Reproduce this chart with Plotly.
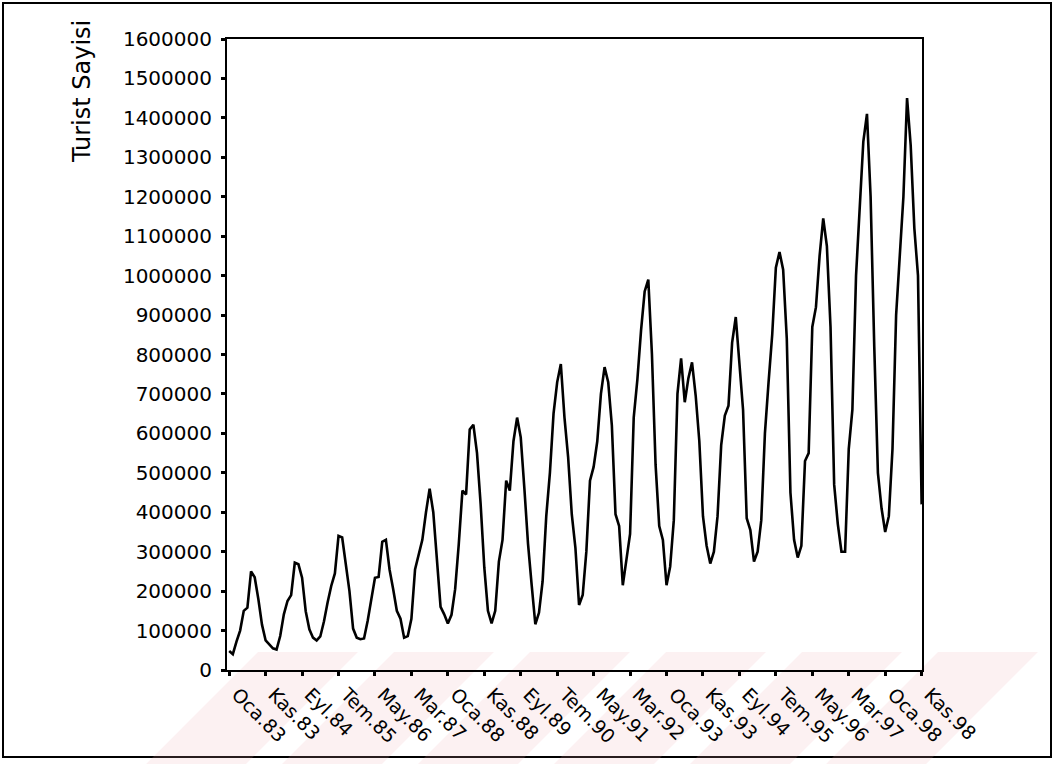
import plotly.graph_objects as go

# Monthly tourist counts (Jan 1983 .. Nov 1998)
y1983 = [48000, 40000, 72000, 100000, 150000, 158000, 250000, 235000, 180000, 115000, 75000, 66000]
y1984 = [55000, 52000, 86000, 141000, 175000, 190000, 272000, 268000, 234000, 149000, 103000, 82000]
y1985 = [75000, 85000, 123000, 171000, 213000, 245000, 340000, 336000, 273000, 200000, 105000, 82000]
y1986 = [78000, 80000, 125000, 184000, 234000, 236000, 325000, 330000, 255000, 205000, 150000, 130000]
y1987 = [82000, 86000, 130000, 255000, 295000, 330000, 400000, 460000, 400000, 270000, 160000, 141000]
y1988 = [118000, 140000, 205000, 320000, 455000, 445000, 610000, 622000, 550000, 420000, 260000, 150000]
y1989 = [118000, 150000, 275000, 330000, 480000, 455000, 580000, 640000, 590000, 460000, 320000, 215000]
y1990 = [116000, 145000, 225000, 390000, 500000, 650000, 730000, 776000, 640000, 540000, 395000, 310000]
y1991 = [165000, 190000, 300000, 480000, 515000, 580000, 700000, 768000, 730000, 620000, 395000, 365000]
y1992 = [215000, 280000, 345000, 640000, 736000, 860000, 960000, 990000, 800000, 520000, 365000, 330000]
y1993 = [215000, 262000, 380000, 700000, 790000, 679000, 740000, 780000, 696000, 580000, 390000, 315000]
y1994 = [270000, 300000, 390000, 570000, 645000, 670000, 830000, 895000, 776000, 660000, 385000, 355000]
y1995 = [275000, 300000, 380000, 600000, 730000, 850000, 1020000, 1060000, 1015000, 840000, 450000, 330000]
y1996 = [285000, 315000, 530000, 550000, 870000, 920000, 1050000, 1145000, 1075000, 870000, 470000, 370000]
y1997 = [300000, 300000, 560000, 660000, 1000000, 1180000, 1340000, 1410000, 1200000, 820000, 500000, 410000]
y1998 = [350000, 390000, 560000, 900000, 1040000, 1200000, 1450000, 1330000, 1120000, 1000000, 420000]

tick_labels = ["Oca.83", "Kas.83", "Eyl.84", "Tem.85", "May.86", "Mar.87", "Oca.88",
               "Kas.88", "Eyl.89", "Tem.90", "May.91", "Mar.92", "Oca.93", "Kas.93",
               "Eyl.94", "Tem.95", "May.96", "Mar.97", "Oca.98", "Kas.98"]
y_ticks = [0, 100000, 200000, 300000, 400000, 500000, 600000, 700000, 800000,
           900000, 1000000, 1100000, 1200000, 1300000, 1400000, 1500000, 1600000]

years = [y1983, y1984, y1985, y1986, y1987, y1988, y1989, y1990,
         y1991, y1992, y1993, y1994, y1995, y1996, y1997, y1998]
values = [v for yr in years for v in yr]
idx = list(range(len(values)))
tick_pos = [i * 10 for i in range(len(tick_labels))]

fig = go.Figure()
fig.add_trace(go.Scatter(x=idx, y=values, mode="lines",
                         line=dict(color="black", width=2.6), hoverinfo="skip"))

L, R, T, B = 227, 922, 39, 670
W, H = 1054, 764
pw, ph = R - L, B - T

def px(x):
    return (x - L) / pw

def py(y):
    return (B - y) / ph

shapes = [
    dict(type="rect", xref="paper", yref="paper",
         x0=px(3), x1=px(1051), y0=py(757), y1=py(3),
         line=dict(color="black", width=2), layer="below"),
]
# faint pink diagonal watermark stripes along the bottom
for k in range(6):
    xa = 258 + 136 * k
    path = "M {:.4f} {:.4f} L {:.4f} {:.4f} L {:.4f} {:.4f} L {:.4f} {:.4f} Z".format(
        px(xa), py(652), px(xa + 100), py(652),
        px(xa + 100 - 112), py(764), px(xa - 112), py(764))
    shapes.append(dict(type="path", xref="paper", yref="paper", path=path,
                       fillcolor="rgba(240,170,178,0.17)", line=dict(width=0),
                       layer="below"))

fig.update_layout(
    width=W, height=H,
    margin=dict(l=L, r=W - R, t=T, b=H - B),
    paper_bgcolor="white", plot_bgcolor="rgba(0,0,0,0)",
    showlegend=False,
    shapes=shapes,
    font=dict(family="DejaVu Sans", color="black"),
    xaxis=dict(range=[-0.6, 190.1], tickmode="array", tickvals=tick_pos,
               ticktext=tick_labels, tickangle=45, ticks="outside", ticklen=4,
               tickwidth=3, tickcolor="black", showgrid=False, zeroline=False,
               showline=True, linecolor="black", linewidth=2, mirror=True,
               ticklabelshift=8,
               tickfont=dict(family="DejaVu Sans", size=19, color="black")),
    yaxis=dict(range=[0, 1600000], tickmode="array", tickvals=y_ticks,
               ticktext=[str(v) for v in y_ticks], ticks="outside", ticklen=4,
               tickwidth=3, tickcolor="black", showgrid=False, zeroline=False,
               showline=True, linecolor="black", linewidth=2, mirror=True,
               ticklabelstandoff=5,
               tickfont=dict(family="DejaVu Sans", size=20, color="black")),
    annotations=[dict(text="Turist Sayisi", xref="paper", yref="paper",
                      x=px(82), y=py(92), xanchor="center", yanchor="middle",
                      textangle=-90, showarrow=False,
                      font=dict(family="DejaVu Sans", size=24, color="black"))],
)

fig.write_html("out.html")
